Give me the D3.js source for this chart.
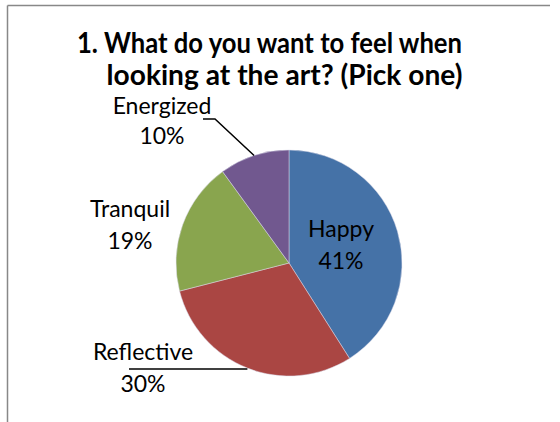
<!DOCTYPE html>
<html>
<head>
<meta charset="utf-8">
<script src="https://cdn.jsdelivr.net/npm/d3@7"></script>
<style>
  body { margin: 0; background: #fff; }
  svg text { font-family: Lato, "Open Sans", sans-serif; fill: #000; }
</style>
</head>
<body>
<script>
//chart data
var categories = ["Happy", "Reflective", "Tranquil", "Energized"];
var values = [41, 30, 19, 10];
var colors = ["#4572A7", "#AA4643", "#89A54E", "#71588F"];
var titleLines = ["1. What do you want to feel when", "looking at the art? (Pick one)"];

var width = 560, height = 422;
var cx = 289, cy = 263, radius = 113;

var svg = d3.select("body").append("svg")
    .attr("width", width)
    .attr("height", height);

//frame (top and left edges visible)
svg.append("line").attr("x1", 7.5).attr("y1", 5.5).attr("x2", 550).attr("y2", 5.5)
    .attr("stroke", "#888").attr("stroke-width", 1.5);
svg.append("line").attr("x1", 7.5).attr("y1", 5.5).attr("x2", 7.5).attr("y2", height)
    .attr("stroke", "#888").attr("stroke-width", 1.5);

//title
var titlePos = [{x: 269.5, y: 53, w: 385}, {x: 284.5, y: 85, w: 356}];
svg.selectAll(".title")
    .data(titleLines)
    .enter()
    .append("text")
    .attr("class", "title")
    .attr("x", function(d, i){ return titlePos[i].x; })
    .attr("y", function(d, i){ return titlePos[i].y; })
    .attr("text-anchor", "middle")
    .attr("textLength", function(d, i){ return titlePos[i].w; })
    .attr("lengthAdjust", "spacingAndGlyphs")
    .style("font-size", "28px")
    .style("font-weight", "bold")
    .text(function(d){ return d; });

//pie
var pie = d3.pie().sort(null).value(function(d){ return d; });
var arcs = pie(values);
var arc = d3.arc().innerRadius(0).outerRadius(radius);

var g = svg.append("g").attr("transform", "translate(" + cx + "," + cy + ")");
g.selectAll(".slice")
    .data(arcs)
    .enter()
    .append("path")
    .attr("class", "slice")
    .attr("d", arc)
    .attr("fill", function(d, i){ return colors[i]; })
    .attr("stroke", "#d8d8e8")
    .attr("stroke-width", 0.5);

//labels: positions relative to pie centre
var labelPos = [
    {x: 52, y: -26},
    {x: -146, y: 97},
    {x: -159, y: -46},
    {x: -127, y: -149}
];
var total = d3.sum(values);
var labels = g.selectAll(".label")
    .data(arcs)
    .enter()
    .append("text")
    .attr("class", "label")
    .attr("text-anchor", "middle")
    .style("font-size", "23px");
labels.append("tspan")
    .attr("x", function(d, i){ return labelPos[i].x; })
    .attr("y", function(d, i){ return labelPos[i].y; })
    .text(function(d, i){ return categories[i]; });
labels.append("tspan")
    .attr("x", function(d, i){ return labelPos[i].x; })
    .attr("y", function(d, i){ return labelPos[i].y + (i === 3 ? 30 : 32); })
    .text(function(d){ return Math.round(d.value / total * 100) + "%"; });

//leader lines for the outside labels
function edgePoint(d){
    var a = (d.startAngle + d.endAngle) / 2;
    return [radius * Math.sin(a), -radius * Math.cos(a)];
}
var leaders = [
    {i: 1, pts: function(p){ return [[-160, p[1] + 1], [p[0], p[1] + 1]]; }},
    {i: 3, pts: function(p){ return [[-86, -144], [-74, -144], p]; }}
];
leaders.forEach(function(l){
    var p = edgePoint(arcs[l.i]);
    g.append("path")
        .attr("d", d3.line()(l.pts(p)))
        .attr("fill", "none")
        .attr("stroke", "#000")
        .attr("stroke-width", 1.5);
});
</script>
</body>
</html>
